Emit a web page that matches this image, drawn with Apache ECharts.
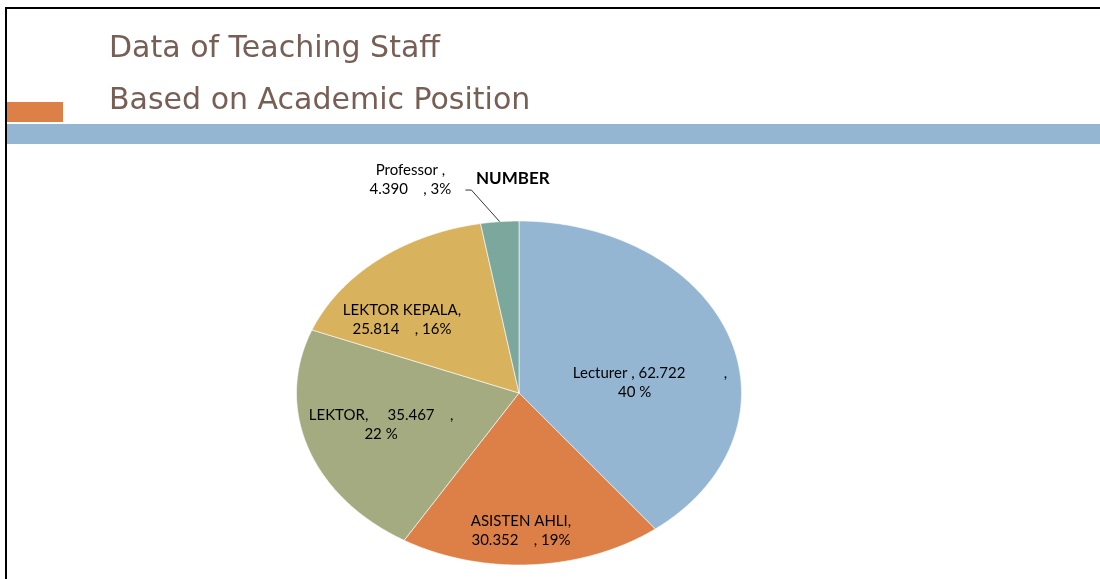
<!DOCTYPE html>
<html><head><meta charset="utf-8">
<script src="https://cdn.jsdelivr.net/npm/echarts@6/dist/echarts.min.js"></script>
<style>html,body{margin:0;padding:0;background:#fff}#c{width:1100px;height:579px}</style>
</head><body><div id="c"></div>
<script>
// ---- data ----
const categories = ['Lecturer', 'ASISTEN AHLI', 'LEKTOR', 'LEKTOR KEPALA', 'Professor'];
const values = [62722, 30352, 35467, 25814, 4390];
const titleLines = ['Data of Teaching Staff', 'Based on Academic Position'];
const seriesName = 'NUMBER';
const labelTemplates = [
  '{n} , {v}          ,\n{p} %        ',
  '{n},\n{v}    , {p}%',
  '{n},     {v}    ,\n{p} %',
  '{n},\n{v}    , {p}%',
  '{n} ,\n{v}    , {p}%'
];

// ---- style / layout ----
const colors = ['#94B6D2', '#DD8047', '#A5AB81', '#D8B25C', '#7BA79D'];
const titleColor = '#775F55';
const cx = 519, cy = 393, rx = 222.5, ry = 172;
// label anchor relative to pie centre, in radius units
const labelAnchor = [[0.589, -0.058], [0.009, 0.803], [-0.620, 0.186], [-0.526, -0.424], [-0.488, -1.238]];
const outsideLabel = [false, false, false, false, true];
const labelFont = 'Lato';

const total = values.reduce((a, b) => a + b, 0);
function fmt(v) { return String(v).replace(/\B(?=(\d{3})+(?!\d))/g, '.'); }

const chart = echarts.init(document.getElementById('c'), null, {renderer: 'canvas'});
chart.setOption({
  backgroundColor: '#ffffff',
  animation: false,
  title: [
    {text: titleLines.join('\n'), left: 104, top: 18,
     textStyle: {color: titleColor, fontFamily: 'DejaVu Sans', fontSize: 30, fontWeight: 'normal', lineHeight: 52}},
    {text: seriesName, left: 471, top: 165,
     textStyle: {color: '#000', fontFamily: 'Lato', fontSize: 17, fontWeight: 'bold'}}
  ],
  graphic: [
    {type: 'rect', shape: {x: 5, y: 7, width: 2, height: 572}, style: {fill: '#000'}},
    {type: 'rect', shape: {x: 5, y: 7, width: 1095, height: 2}, style: {fill: '#000'}},
    {type: 'rect', shape: {x: 7, y: 102, width: 56, height: 20}, style: {fill: '#DD8047'}},
    {type: 'rect', shape: {x: 7, y: 124, width: 1093, height: 20}, style: {fill: '#94B6D2'}}
  ],
  series: [{
    type: 'custom',
    name: seriesName,
    coordinateSystem: 'none',
    data: values.map((v, i) => ({name: categories[i], value: v})),
    renderItem: function (params, api) {
      const i = params.dataIndex;
      const v = api.value(0);
      let before = 0;
      for (let k = 0; k < i; k++) before += values[k];
      const a0 = before / total * 2 * Math.PI;
      const a1 = (before + v) / total * 2 * Math.PI;
      const pts = [[cx, cy]];
      const n = Math.max(8, Math.ceil((a1 - a0) / 0.01));
      for (let s = 0; s <= n; s++) {
        const a = a0 + (a1 - a0) * s / n;
        pts.push([cx + rx * Math.sin(a), cy - ry * Math.cos(a)]);
      }
      const pct = Math.round(v / total * 100);
      const txt = labelTemplates[i].replace('{n}', categories[i]).replace('{v}', fmt(v)).replace('{p}', pct);
      const lx = cx + labelAnchor[i][0] * rx, ly = cy + labelAnchor[i][1] * ry;
      const children = [
        {type: 'polygon', shape: {points: pts},
         style: {fill: colors[i], stroke: '#ffffff', lineWidth: 0.6}},
        {type: 'text', x: lx, y: ly,
         style: {text: txt, fill: '#000', fontSize: 15, fontFamily: labelFont,
                 align: 'center', verticalAlign: 'middle', lineHeight: 19}}
      ];
      if (outsideLabel[i]) {
        const am = (a0 + a1) / 2;
        const ex = cx + rx * Math.sin(am), ey = cy - ry * Math.cos(am);
        children.push({type: 'polyline',
          shape: {points: [[ex, ey], [lx + 61, ly + 10], [lx + 55, ly + 10]]},
          style: {stroke: '#000', lineWidth: 0.8, fill: null}});
      }
      return {type: 'group', children: children};
    }
  }]
});
</script></body></html>
